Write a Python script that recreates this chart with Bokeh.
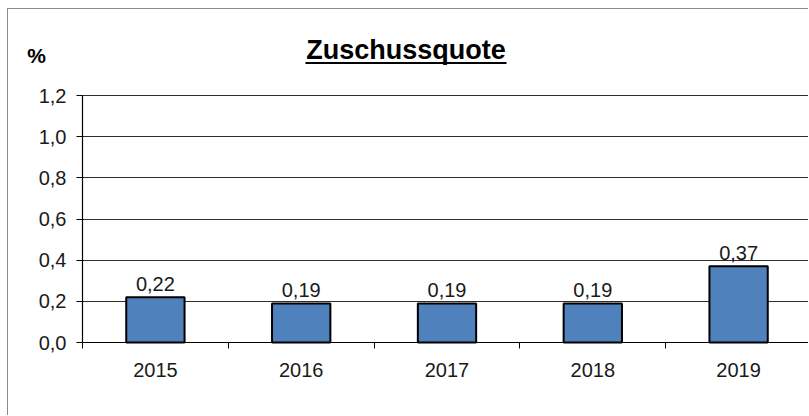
from bokeh.plotting import figure
from bokeh.models import (Range1d, FixedTicker, CustomJSTickFormatter, Label, Arrow,
                          ColumnDataSource)
from bokeh.embed import file_html
from bokeh.resources import INLINE
from bokeh.core.properties import value

# ---- data ----
years = ["2015", "2016", "2017", "2018", "2019"]
quote = [0.22, 0.19, 0.19, 0.19, 0.37]
y_ticks = [0.0, 0.2, 0.4, 0.6, 0.8, 1.0, 1.2]
title_text = "Zuschussquote"
unit_text = "%"

FONT = "Liberation Sans"

# ---- layout (page pixels) ----
OX, OY = 8, 9                 # canvas origin on the page (after css margin + border)
W, H = 809 - OX, 416 - OY
AXIS_X, FRAME_T, AXIS_Y = 82, 95, 342
CAT_W = 145.8
Y_MAX = 1.2

def xd(px):
    return (px - AXIS_X) / CAT_W

def yd(py):
    return (AXIS_Y - py) * Y_MAX / (AXIS_Y - FRAME_T)

x_end = xd(OX + W)
centers = [i + 0.5 for i in range(len(years))]
src = ColumnDataSource(dict(
    x=centers, top=quote,
    lab=[("%.2f" % v).replace(".", ",") for v in quote],
))

p = figure(width=W, height=H, output_backend="svg", toolbar_location=None,
           x_range=Range1d(xd(OX), x_end),
           y_range=Range1d(yd(OY + H), yd(OY)),
           min_border_left=0, min_border_right=0,
           min_border_top=0, min_border_bottom=0)
p.outline_line_color = None
p.background_fill_color = "white"
p.border_fill_color = "white"
p.styles = {"margin-left": "7px", "margin-top": "8px",
            "border-left": "1px solid #8a8a8a", "border-top": "1px solid #8a8a8a"}

p.vbar(x="x", top="top", width=0.4, source=src,
       fill_color="#4F81BD", line_color="black", line_width=2)
p.text(x="x", y="top", text="lab", source=src, text_align="center",
       text_baseline="bottom", y_offset=-6, text_font=value(FONT),
       text_font_size="20px", text_color="#1a1a1a")

# grid
p.xgrid.grid_line_color = None
p.ygrid.grid_line_color = "#2e2e2e"
p.ygrid.grid_line_width = 1.2
p.ygrid.ticker = FixedTicker(ticks=y_ticks[1:])
p.ygrid.cross_bounds = (0, x_end)

# y axis (fixed inside the frame)
ya = p.yaxis[0]
ya.fixed_location = 0
ya.bounds = (0, Y_MAX)
ya.ticker = FixedTicker(ticks=y_ticks)
ya.formatter = CustomJSTickFormatter(code="return tick.toFixed(1).replace('.', ',');")
ya.major_tick_out = 6
ya.major_tick_in = 0
ya.minor_tick_line_color = None
ya.axis_line_color = "black"
ya.axis_line_width = 1.2
ya.major_tick_line_color = "black"
ya.major_label_standoff = 10
ya.major_label_text_font = FONT
ya.major_label_text_font_size = "20px"
ya.major_label_text_color = "#1a1a1a"

# x axis (fixed at y = 0)
xa = p.xaxis[0]
xa.fixed_location = 0
xa.bounds = (0, x_end)
xa.ticker = FixedTicker(ticks=centers, minor_ticks=list(range(len(years) + 1)))
xa.formatter = CustomJSTickFormatter(args=dict(labels=years),
                                     code="return labels[Math.floor(tick)];")
xa.major_tick_line_color = None
xa.major_tick_out = 0
xa.major_tick_in = 0
xa.minor_tick_out = 6
xa.minor_tick_in = 0
xa.minor_tick_line_color = "black"
xa.axis_line_color = "black"
xa.axis_line_width = 1.2
xa.major_label_standoff = 14
xa.major_label_text_font = FONT
xa.major_label_text_font_size = "20px"
xa.major_label_text_color = "#1a1a1a"

# title with underline and unit label
p.add_layout(Label(x=xd(405.5), y=yd(49), text=title_text, text_align="center",
                   text_baseline="middle", text_font=FONT, text_font_size="27px",
                   text_font_style="bold", text_color="black"))
p.add_layout(Arrow(end=None, x_start=xd(305), y_start=yd(62.5), x_end=xd(506),
                   y_end=yd(62.5), line_color="black", line_width=2))
p.add_layout(Label(x=xd(36), y=yd(55), text=unit_text, text_align="center",
                   text_baseline="middle", text_font=FONT, text_font_size="21px",
                   text_font_style="bold", text_color="black"))

open("out.html", "w").write(file_html(p, INLINE))
